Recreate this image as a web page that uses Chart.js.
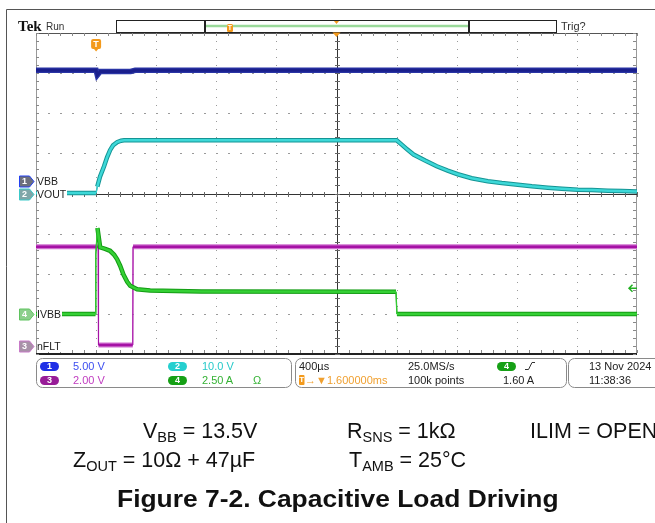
<!doctype html>
<html>
<head>
<meta charset="utf-8">
<title>Figure 7-2. Capacitive Load Driving</title>
<script src="https://cdn.jsdelivr.net/npm/chart.js@4.4.1/dist/chart.umd.min.js"></script>
<style>
	body { margin: 0; background: #fff; }
	#scope { position: relative; width: 655px; height: 523px; overflow: hidden; font-family: "Liberation Sans", Arial, sans-serif; }
	#scope canvas { position: absolute; left: 0; top: 0; }
	.t { position: absolute; white-space: nowrap; font-size: 11px; line-height: 11px; color: #222; }
	.pill { position: absolute; width: 19px; height: 9px; border-radius: 4.5px; color: #fff; font-weight: bold; font-size: 9px; line-height: 9px; text-align: center; }
	.tee { position: absolute; color: #fff; font-weight: bold; text-align: center; }
	.chlabel { position: absolute; left: 37px; font-size: 10.5px; line-height: 11px; background: #fff; padding-right: 1px; color: #222; }
	.chnum { position: absolute; left: 19px; width: 11px; font-size: 9px; line-height: 11px; font-weight: bold; color: #fff; text-align: center; }
	.cap { position: absolute; white-space: nowrap; font-size: 21.5px; line-height: 22px; color: #111; }
	.cap sub { font-size: 14.5px; line-height: 0; vertical-align: -4px; }
	.fig { font-weight: bold; font-size: 24px; line-height: 24px; transform: scaleX(1.1); transform-origin: 0 0; }
</style>
</head>

<body>
<div id="scope">
	<canvas id="canvas" width="655" height="523"></canvas>

	<div class="t" style="left:18px;top:19px;font:bold 15px/15px 'Liberation Serif',serif;color:#111">Tek</div>
	<div class="t" style="left:46px;top:22px;font-size:10px;line-height:10px;color:#333">Run</div>
	<div class="t" style="left:561px;top:21px;color:#333">Trig?</div>
	<div class="tee" style="left:227px;top:24px;width:6px;font-size:7px;line-height:8px">T</div>
	<div class="tee" style="left:91px;top:39px;width:10px;font-size:9px;line-height:10px">T</div>

	<div class="pill" style="left:40px;top:361.5px;background:#1f2fe6">1</div>
	<div class="t" style="left:73px;top:360.5px;color:#3d4ef0">5.00 V</div>
	<div class="pill" style="left:168px;top:361.5px;background:#25cfcf">2</div>
	<div class="t" style="left:202px;top:360.5px;color:#27c9c9">10.0 V</div>
	<div class="pill" style="left:40px;top:375.5px;background:#981c98">3</div>
	<div class="t" style="left:73px;top:374.5px;color:#c03cc0">2.00 V</div>
	<div class="pill" style="left:168px;top:375.5px;background:#16a016">4</div>
	<div class="t" style="left:202px;top:374.5px;color:#34b234">2.50 A</div>
	<div class="t" style="left:253px;top:374.5px;color:#34b234">Ω</div>

	<div class="t" style="left:299px;top:360.5px">400µs</div>
	<div class="tee" style="left:299px;top:375px;width:5.5px;font-size:8px;line-height:10px">T</div>
	<div class="t" style="left:305px;top:374.5px;color:#f0a030">→▼1.600000ms</div>
	<div class="t" style="left:408px;top:360.5px">25.0MS/s</div>
	<div class="t" style="left:408px;top:374.5px">100k points</div>
	<div class="pill" style="left:497px;top:361.5px;background:#16a016">4</div>
	<div class="t" style="left:503px;top:374.5px">1.60 A</div>
	<div class="t" style="left:589px;top:360.5px">13 Nov 2024</div>
	<div class="t" style="left:589px;top:374.5px">11:38:36</div>

	<div class="cap" style="left:143px;top:420px">V<sub>BB</sub> = 13.5V</div>
	<div class="cap" style="left:347px;top:420px">R<sub>SNS</sub> = 1kΩ</div>
	<div class="cap" style="left:530px;top:420px">ILIM = OPEN</div>
	<div class="cap" style="left:73px;top:449px">Z<sub>OUT</sub> = 10Ω + 47µF</div>
	<div class="cap" style="left:349px;top:449px">T<sub>AMB</sub> = 25°C</div>
	<div class="cap fig" style="left:117px;top:487px">Figure 7-2. Capacitive Load Driving</div>
</div>

<script>
	// horizontal: 400 us/div, trigger one division from the left edge (time in ms)
	var X_DIVS = 10, Y_DIVS = 8;
	var MS_PER_DIV = 0.4;
	var T_START = -0.4;
	var TRIG_LEVEL = 1.6;   // A, on channel 4
	var CENTER_DELAY = 1.6; // ms, T -> centre

	// channel 1 - VBB, 5.00 V/div
	var vbbTime  = [-0.4, 0.0, 0.008, 0.027, 0.23, 0.26, 3.6];
	var vbbVolts = [13.8, 13.8, 13.2, 13.65, 13.65, 13.8, 13.8];

	// channel 2 - VOUT, 10.0 V/div
	var voutTime  = [-0.4, 0.0, 0.008, 0.026, 0.053, 0.073, 0.093, 0.113, 0.14, 0.166, 0.186, 2.0, 2.04, 2.07, 2.113, 2.19, 2.267, 2.34, 2.407, 2.5, 2.607, 2.7, 2.807, 2.9, 3.007, 3.1, 3.207, 3.3, 3.407, 3.5, 3.6];
	var voutVolts = [0.1, 0.1, 1.7, 4.2, 6.8, 9.0, 10.8, 12.0, 12.8, 13.15, 13.25, 13.25, 12.0, 11.0, 9.7, 8.2, 6.8, 5.7, 4.8, 3.8, 3.05, 2.6, 2.2, 1.8, 1.45, 1.2, 0.95, 0.85, 0.7, 0.6, 0.5];

	// channel 3 - nFLT, 2.00 V/div
	var nfltTime  = [-0.4, 0.014, 0.016, 0.244, 0.246, 3.6];
	var nfltVolts = [4.95, 4.95, 0.05, 0.05, 4.95, 4.95];

	// channel 4 - IVBB, 2.50 A/div
	var ivbbTime = [-0.4, -0.004, -0.002, 0.009, 0.027, 0.06, 0.093, 0.12, 0.14, 0.16, 0.182, 0.207, 0.227, 0.273, 0.36, 0.7, 1.996, 2.002, 3.6];
	var ivbbAmps = [0.0, 0.0, 3.7, 5.35, 4.15, 4.05, 3.93, 3.68, 3.4, 3.0, 2.45, 2.0, 1.75, 1.53, 1.45, 1.4, 1.38, 0.0, 0.0];

	var channels = [
		{name: 'VBB',  num: '1', axis: 'y1', time: vbbTime,  values: vbbVolts,  perDiv: 5,   groundDiv: 0.31, edge: '#2a35a5', core: '#1a1f8c', edgeW: 5.5, coreW: 3,   mark: '#6c6f7c', markLine: '#2340f0', order: 4},
		{name: 'VOUT', num: '2', axis: 'y2', time: voutTime, values: voutVolts, perDiv: 10,  groundDiv: 0,    edge: '#159595', core: '#3dd8d8', edgeW: 4.5, coreW: 2.5, mark: '#7fa6a8', markLine: '#3cc9c9', order: 6},
		{name: 'nFLT', num: '3', axis: 'y3', time: nfltTime, values: nfltVolts, perDiv: 2,   groundDiv: -3.8, edge: '#cf6fcf', core: '#a512a5', edgeW: 5,   coreW: 2.5, mark: '#a891a8', markLine: '#c77ac7', order: 2},
		{name: 'IVBB', num: '4', axis: 'y4', time: ivbbTime, values: ivbbAmps,  perDiv: 2.5, groundDiv: -3.0, edge: '#139c13', core: '#35d035', edgeW: 4.5, coreW: 2.5, mark: '#8ccf8c', markLine: '#5fc35f', order: 0}
	];

	// vertical edges of the traces are thin, the noisy flat parts are thick
	function widthFor(thick, thin) {
		return function (c) {
			return (Math.abs(c.p1.x - c.p0.x) < 2 && Math.abs(c.p1.y - c.p0.y) > 6) ? thin : thick;
		};
	}

	var datasets = [];
	var yScales = {};
	channels.forEach(function (ch) {
		var pts = ch.time.map(function (t, i) { return {x: t, y: ch.values[i]}; });
		datasets.push({
			label: ch.name + ' core', data: pts, yAxisID: ch.axis, order: ch.order,
			borderColor: ch.core, borderWidth: ch.coreW, segment: {borderWidth: widthFor(ch.coreW, 1)}
		});
		datasets.push({
			label: ch.name, data: pts, yAxisID: ch.axis, order: ch.order + 1,
			borderColor: ch.edge, borderWidth: ch.edgeW, segment: {borderWidth: widthFor(ch.edgeW, 1.3)}
		});
		yScales[ch.axis] = {
			type: 'linear', display: false,
			min: (-Y_DIVS / 2 - ch.groundDiv) * ch.perDiv,
			max: (Y_DIVS / 2 - ch.groundDiv) * ch.perDiv
		};
	});

	function rrect(ctx, x, y, w, h, r) {
		ctx.beginPath();
		ctx.moveTo(x + r, y);
		ctx.arcTo(x + w, y, x + w, y + h, r);
		ctx.arcTo(x + w, y + h, x, y + h, r);
		ctx.arcTo(x, y + h, x, y, r);
		ctx.arcTo(x, y, x + w, y, r);
		ctx.closePath();
	}

	var scopeGrid = {
		id: 'scopeGrid',
		beforeDatasetsDraw: function (chart) {
			var ctx = chart.ctx, a = chart.chartArea, xs = chart.scales.x;
			var colX = [], rowY = [], i, j;
			for (i = 0; i <= X_DIVS * 5; i++) colX.push(Math.round(xs.getPixelForValue(T_START + i * MS_PER_DIV / 5)));
			for (j = 0; j <= Y_DIVS * 5; j++) rowY.push(Math.round(a.top + j * (a.bottom - a.top) / (Y_DIVS * 5)));
			var w = a.right - a.left, h = a.bottom - a.top;
			ctx.save();
			ctx.fillStyle = '#fff';
			ctx.fillRect(a.left, a.top, w, h);

			// dotted division lines
			ctx.fillStyle = '#9a9a9a';
			for (i = 5; i < X_DIVS * 5; i += 5) {
				if (i === X_DIVS * 5 / 2) continue;
				rowY.forEach(function (y) { ctx.fillRect(colX[i], y, 1, 1); });
			}
			for (j = 5; j < Y_DIVS * 5; j += 5) {
				if (j === Y_DIVS * 5 / 2) continue;
				colX.forEach(function (x) { ctx.fillRect(x, rowY[j], 2, 1); });
			}

			// frame
			ctx.fillStyle = '#999';
			ctx.fillRect(a.left, a.top, 1, h);
			ctx.fillRect(a.right - 1, a.top, 1, h);
			ctx.fillStyle = '#555';
			ctx.fillRect(a.left, a.top, w, 1);
			ctx.fillStyle = '#222';
			ctx.fillRect(a.left, a.bottom - 1, w, 2);

			// frame ticks
			ctx.fillStyle = '#888';
			colX.forEach(function (x) { ctx.fillRect(x, a.top, 1, 3); ctx.fillRect(x, a.bottom - 4, 1, 3); });
			rowY.forEach(function (y) { ctx.fillRect(a.left, y, 3, 1); ctx.fillRect(a.right - 4, y, 3, 1); });

			// centre cross
			var cx = colX[X_DIVS * 5 / 2], cy = rowY[Y_DIVS * 5 / 2];
			ctx.fillStyle = '#333';
			ctx.fillRect(cx, a.top, 1, h);
			ctx.fillRect(a.left, cy, w, 1);
			ctx.fillStyle = '#666';
			colX.forEach(function (x) { ctx.fillRect(x, cy - 2, 1, 5); });
			rowY.forEach(function (y) { ctx.fillRect(cx - 2, y, 5, 1); });
			ctx.restore();
		}
	};

	var scopeChrome = {
		id: 'scopeChrome',
		afterDraw: function (chart) {
			var ctx = chart.ctx, a = chart.chartArea, xs = chart.scales.x;
			var orange = '#f39a1c';
			ctx.save();

			// page frame
			ctx.strokeStyle = '#555';
			ctx.lineWidth = 1;
			ctx.beginPath();
			ctx.moveTo(6.5, 523); ctx.lineTo(6.5, 9.5); ctx.lineTo(655, 9.5);
			ctx.stroke();

			// record view bar
			ctx.strokeStyle = '#222';
			ctx.strokeRect(116.5, 20.5, 440, 12);
			ctx.strokeStyle = '#9ad99a';
			ctx.lineWidth = 2.5;
			ctx.beginPath(); ctx.moveTo(206, 26); ctx.lineTo(468, 26); ctx.stroke();
			ctx.fillStyle = '#222';
			ctx.fillRect(204, 20.5, 2, 12);
			ctx.fillRect(468, 20.5, 2, 12);
			ctx.fillStyle = orange;
			rrect(ctx, 227, 24, 6, 8, 1.5); ctx.fill();

			// expansion point markers
			var mx = xs.getPixelForValue(CENTER_DELAY);
			ctx.beginPath(); ctx.moveTo(mx - 2.5, 21); ctx.lineTo(mx + 2.5, 21); ctx.lineTo(mx, 24); ctx.closePath(); ctx.fill();
			ctx.beginPath(); ctx.moveTo(mx - 4, a.top - 0.5); ctx.lineTo(mx + 4, a.top - 0.5); ctx.lineTo(mx, a.top + 4); ctx.closePath(); ctx.fill();

			// trigger position marker
			var tx = xs.getPixelForValue(0);
			rrect(ctx, tx - 5, 39, 10, 10, 2); ctx.fill();
			ctx.beginPath(); ctx.moveTo(tx - 2.5, 48.5); ctx.lineTo(tx + 2.5, 48.5); ctx.lineTo(tx, 51.5); ctx.closePath(); ctx.fill();

			// channel ground markers
			channels.forEach(function (ch) {
				var y = Math.round(chart.scales[ch.axis].getPixelForValue(0)) + 0.5;
				ctx.beginPath();
				ctx.moveTo(19.5, y - 5.5); ctx.lineTo(29.5, y - 5.5); ctx.lineTo(34, y);
				ctx.lineTo(29.5, y + 5.5); ctx.lineTo(19.5, y + 5.5); ctx.closePath();
				ctx.fillStyle = ch.mark; ctx.fill();
				ctx.strokeStyle = ch.markLine; ctx.lineWidth = 1; ctx.stroke();
			});

			// trigger level arrow (channel 4)
			var ty = chart.scales.y4.getPixelForValue(TRIG_LEVEL);
			ctx.strokeStyle = '#22b022';
			ctx.lineWidth = 1.5;
			ctx.beginPath();
			ctx.moveTo(637, ty); ctx.lineTo(629, ty);
			ctx.moveTo(632.5, ty - 3.5); ctx.lineTo(629, ty); ctx.lineTo(632.5, ty + 3.5);
			ctx.stroke();

			// readout boxes
			ctx.strokeStyle = '#8a8a8a';
			ctx.lineWidth = 1;
			rrect(ctx, 36.5, 358.5, 255, 29, 6); ctx.stroke();
			rrect(ctx, 295.5, 358.5, 271, 29, 6); ctx.stroke();
			rrect(ctx, 568.5, 358.5, 100, 29, 6); ctx.stroke();
			ctx.fillStyle = orange;
			rrect(ctx, 299, 375, 5.5, 10, 1); ctx.fill();

			// rising edge symbol
			ctx.strokeStyle = '#333';
			ctx.beginPath();
			ctx.moveTo(525, 369.5); ctx.lineTo(528.5, 369.5); ctx.lineTo(532, 362.5); ctx.lineTo(535, 362.5);
			ctx.stroke();
			ctx.restore();
		}
	};

	var chart = new Chart(document.getElementById('canvas').getContext('2d'), {
		type: 'line',
		data: {datasets: datasets},
		options: {
			responsive: false,
			animation: false,
			layout: {padding: {left: 36, top: 33, right: 18, bottom: 169}},
			plugins: {legend: {display: false}, tooltip: {enabled: false}},
			elements: {point: {radius: 0}, line: {tension: 0}},
			scales: Object.assign({
				x: {type: 'linear', display: false, min: T_START, max: T_START + X_DIVS * MS_PER_DIV}
			}, yScales)
		},
		plugins: [scopeGrid, scopeChrome]
	});

	// channel labels next to the ground markers
	var scope = document.getElementById('scope');
	channels.forEach(function (ch) {
		var y = Math.round(chart.scales[ch.axis].getPixelForValue(0));
		var num = document.createElement('div');
		num.className = 'chnum';
		num.textContent = ch.num;
		num.style.top = (y - 5) + 'px';
		scope.appendChild(num);
		var lab = document.createElement('div');
		lab.className = 'chlabel';
		lab.textContent = ch.name;
		lab.style.top = (y - 5) + 'px';
		scope.appendChild(lab);
	});
</script>
</body>
</html>
